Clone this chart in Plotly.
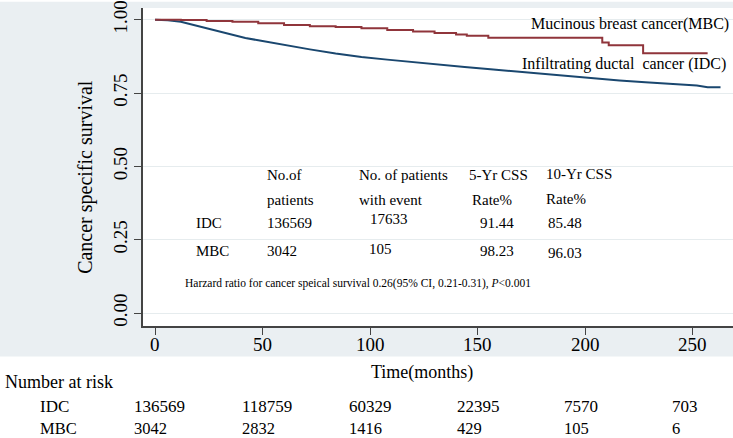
import plotly.graph_objects as go

# Kaplan-Meier curves (months, survival)
idc_time = [0, 6, 12, 18, 24, 30, 36, 42, 48, 54, 60, 72, 84, 96, 108, 120, 132, 144,
            156, 168, 180, 192, 204, 216, 228, 240, 252, 257, 263]
idc_surv = [1.0, 0.998, 0.993, 0.982, 0.970, 0.958, 0.948, 0.938, 0.930, 0.922, 0.914,
            0.899, 0.885, 0.873, 0.864, 0.855, 0.847, 0.839, 0.831, 0.823, 0.815, 0.808,
            0.800, 0.793, 0.787, 0.781, 0.776, 0.770, 0.770]

mbc_time = [0, 12, 24, 36, 48, 60, 72, 84, 96, 108, 120, 130, 140, 145, 155, 208, 211, 227, 257]
mbc_surv = [1.0, 0.999, 0.996, 0.993, 0.988, 0.982, 0.978, 0.975, 0.971, 0.965, 0.960,
            0.955, 0.950, 0.945, 0.939, 0.922, 0.913, 0.886, 0.886]

# number at risk table
risk_times = [0, 50, 100, 150, 200, 250]
risk_idc = ["136569", "118759", "60329", "22395", "7570", "703"]
risk_mbc = ["3042", "2832", "1416", "429", "105", "6"]

# summary table inside the plot
groups = ["IDC", "MBC"]
n_patients = ["136569", "3042"]
n_events = ["17633", "105"]
css_5yr = ["91.44", "98.23"]
css_10yr = ["85.48", "96.03"]

navy = "#1a476f"
maroon = "#90353b"
bg = "#eaeff2"
FONT = "Liberation Serif"

fig = go.Figure()
# IDC has events almost every month, so it reads as a smooth line
fig.add_trace(go.Scatter(x=idc_time, y=idc_surv, mode="lines",
                         line=dict(color=navy, width=2), showlegend=False))
fig.add_trace(go.Scatter(x=mbc_time, y=mbc_surv, mode="lines", line_shape="hv",
                         line=dict(color=maroon, width=2), showlegend=False))

ann = []
def txt(x, y, s, size=15, xref="x", yref="y", xanchor="left", **kw):
    ann.append(dict(x=x, y=y, xref=xref, yref=yref, text=s, showarrow=False,
                    xanchor=xanchor, yanchor="middle",
                    font=dict(family=FONT, size=size, color="black"), **kw))

# curve labels
txt(268, 0.987, "Mucinous breast cancer(MBC)", size=16, xanchor="right")
txt(266.5, 0.848, "Infiltrating ductal  cancer (IDC)", size=16, xanchor="right")

# table header
txt(51, 0.471, "No.of")
txt(51, 0.384, "patients")
txt(94, 0.471, "No. of patients")
txt(94, 0.384, "with event")
txt(145, 0.471, "5-Yr CSS")
txt(146.5, 0.387, "Rate%")
txt(181, 0.474, "10-Yr CSS")
txt(181, 0.390, "Rate%")
# table rows
row_y = [0.306, 0.212]
for i, g in enumerate(groups):
    txt(18, row_y[i], g)
    txt(51, row_y[i], n_patients[i])
    txt(99 if i == 0 else 98.6, [0.32, 0.219][i], n_events[i])
    txt(150, row_y[i], css_5yr[i])
    txt(182, [0.306, 0.205][i], css_10yr[i])
txt(13, 0.101, "Harzard ratio for cancer speical survival 0.26(95% CI, 0.21-0.31), <i>P</i>&lt;0.001", size=11.5)

# x tick labels sit closer to the axis than plotly puts them
for t in risk_times:
    txt(t, -0.059, str(t), size=19, yref="paper", xanchor="center")

# axis titles
txt(-0.0966, 0.469, "Cancer specific survival", size=20, xref="paper", yref="paper",
    xanchor="center", textangle=-90)
txt(0.473, -0.146, "Time(months)", size=18, xref="paper", yref="paper", xanchor="center")

# number at risk
txt(-0.237, -0.177, "Number at risk", size=18, xref="paper", yref="paper")
txt(-0.178, -0.2537, "IDC", size=17, xref="paper", yref="paper")
txt(-0.178, -0.322, "MBC", size=16.5, xref="paper", yref="paper")
for t, a, b in zip(risk_times, risk_idc, risk_mbc):
    txt(t, -0.2537, a, size=17, yref="paper", xshift=-23)
    txt(t, -0.322, b, size=16.5, yref="paper", xshift=-23)

# grey graph region around the white plot region
shapes = [
    dict(type="rect", xref="paper", yref="paper", x0=-0.25, x1=0, y0=-0.0963, y1=1.02,
         fillcolor=bg, line_width=0, layer="below"),
    dict(type="rect", xref="paper", yref="paper", x0=0, x1=1.01, y0=1, y1=1.02,
         fillcolor=bg, line_width=0, layer="below"),
    dict(type="rect", xref="paper", yref="paper", x0=0, x1=1.01, y0=-0.0963, y1=0,
         fillcolor=bg, line_width=0, layer="below"),
]

fig.update_layout(
    width=733, height=438,
    margin=dict(l=143, r=0, t=4, b=112),
    paper_bgcolor="white", plot_bgcolor="white",
    annotations=ann, shapes=shapes,
    font=dict(family=FONT, color="black"),
    xaxis=dict(range=[-5.6, 268.8], tickvals=risk_times, ticks="outside", ticklen=7,
               tickcolor="#444", showline=True, linecolor="#444", linewidth=1.5,
               showgrid=False, zeroline=False, showticklabels=False),
    yaxis=dict(range=[-0.044, 1.04], tickvals=[0, 0.25, 0.5, 0.75, 1.0],
               ticktext=["0.00", "0.25", "0.50", "0.75", "1.00"], tickangle=-90,
               ticks="outside", ticklen=7, tickcolor="#444", showline=True,
               linecolor="#444", linewidth=1.5, showgrid=True, gridcolor="#e6ecee",
               gridwidth=1, zeroline=False, tickfont=dict(size=19, family=FONT),
               ticklabeloverflow="allow"),
)

# page body has a default 8px margin which pushes the chart off the window
fig.write_html("out.html", config={"displayModeBar": False},
               post_script="document.body.style.margin='0';")
